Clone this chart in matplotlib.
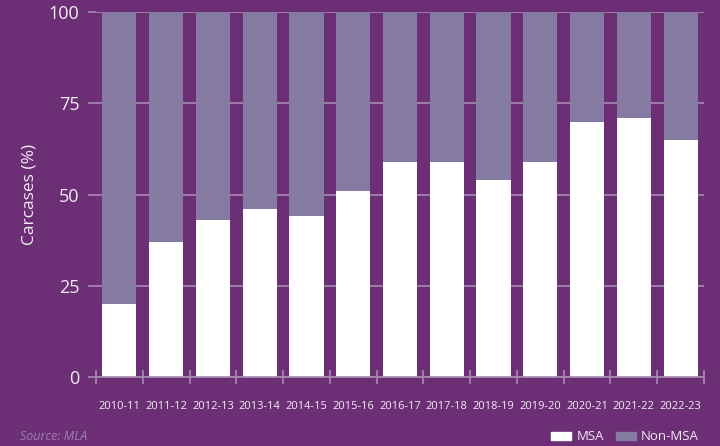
import numpy as np
import matplotlib.pyplot as plt
from matplotlib.patches import Patch

seasons = ["2010-11", "2011-12", "2012-13", "2013-14", "2014-15", "2015-16", "2016-17",
           "2017-18", "2018-19", "2019-20", "2020-21", "2021-22", "2022-23"]
msa = [20, 37, 43, 46, 44, 51, 59, 59, 54, 59, 70, 71, 65]
non_msa = [100 - v for v in msa]

bg = "#6c2e74"
white = "#ffffff"
grey = "#857aa1"
line_col = "#a68bb2"
text_col = "#f2ecf4"

plt.rcParams['font.family'] = ['Open Sans', 'DejaVu Sans']

fig = plt.figure(figsize=(7.2, 4.46), dpi=100, facecolor=bg)
ax = fig.add_axes([96 / 720, 1 - 377 / 446, 608 / 720, 365 / 446])
ax.set_facecolor(bg)

x = np.arange(len(seasons))
ax.bar(x, msa, width=0.73, color=white, zorder=3)
ax.bar(x, non_msa, bottom=msa, width=0.73, color=grey, zorder=3)

ax.set_xlim(-0.5, len(seasons) - 0.5)
ax.set_ylim(0, 100)
ax.set_yticks([0, 25, 50, 75, 100])
ax.yaxis.grid(True, color=line_col, linewidth=1.2, zorder=0)

# category boundary ticks on the x axis, labels centred on bars
ax.set_xticks(np.arange(-0.5, len(seasons)), minor=False)
ax.set_xticklabels([])
ax.set_xticks(x, minor=True)
ax.set_xticklabels(seasons, minor=True, fontsize=8, color=text_col)
ax.tick_params(axis='x', which='major', direction='inout', length=10, color=line_col, width=1.2)
ax.tick_params(axis='x', which='minor', length=0, pad=17)
ax.tick_params(axis='y', length=6, color=line_col, width=1.2, labelsize=13,
               labelcolor=text_col, pad=6)

for s in ['top', 'right', 'left']:
    ax.spines[s].set_visible(False)
ax.spines['bottom'].set_color(line_col)
ax.spines['bottom'].set_linewidth(1.2)
ax.spines['bottom'].set_zorder(4)

ax.set_ylabel("Carcases (%)", fontsize=12.5, color=text_col)
ax.yaxis.set_label_coords(-0.097, 0.5)

fig.text(20 / 720, 1 - 437 / 446, "Source: MLA", fontsize=9, style='italic',
         color="#9c7fab", va='center')

handles = [Patch(color=white, label="MSA"), Patch(color=grey, label="Non-MSA")]
fig.legend(handles=handles, loc='center right', bbox_to_anchor=(704 / 720, 1 - 437 / 446),
           ncol=2, frameon=False, fontsize=9.5, labelcolor=text_col, handlelength=1.5,
           handleheight=0.5, handletextpad=0.4, columnspacing=0.9, borderaxespad=0)

fig.savefig("out.png", dpi=100, facecolor=bg)
